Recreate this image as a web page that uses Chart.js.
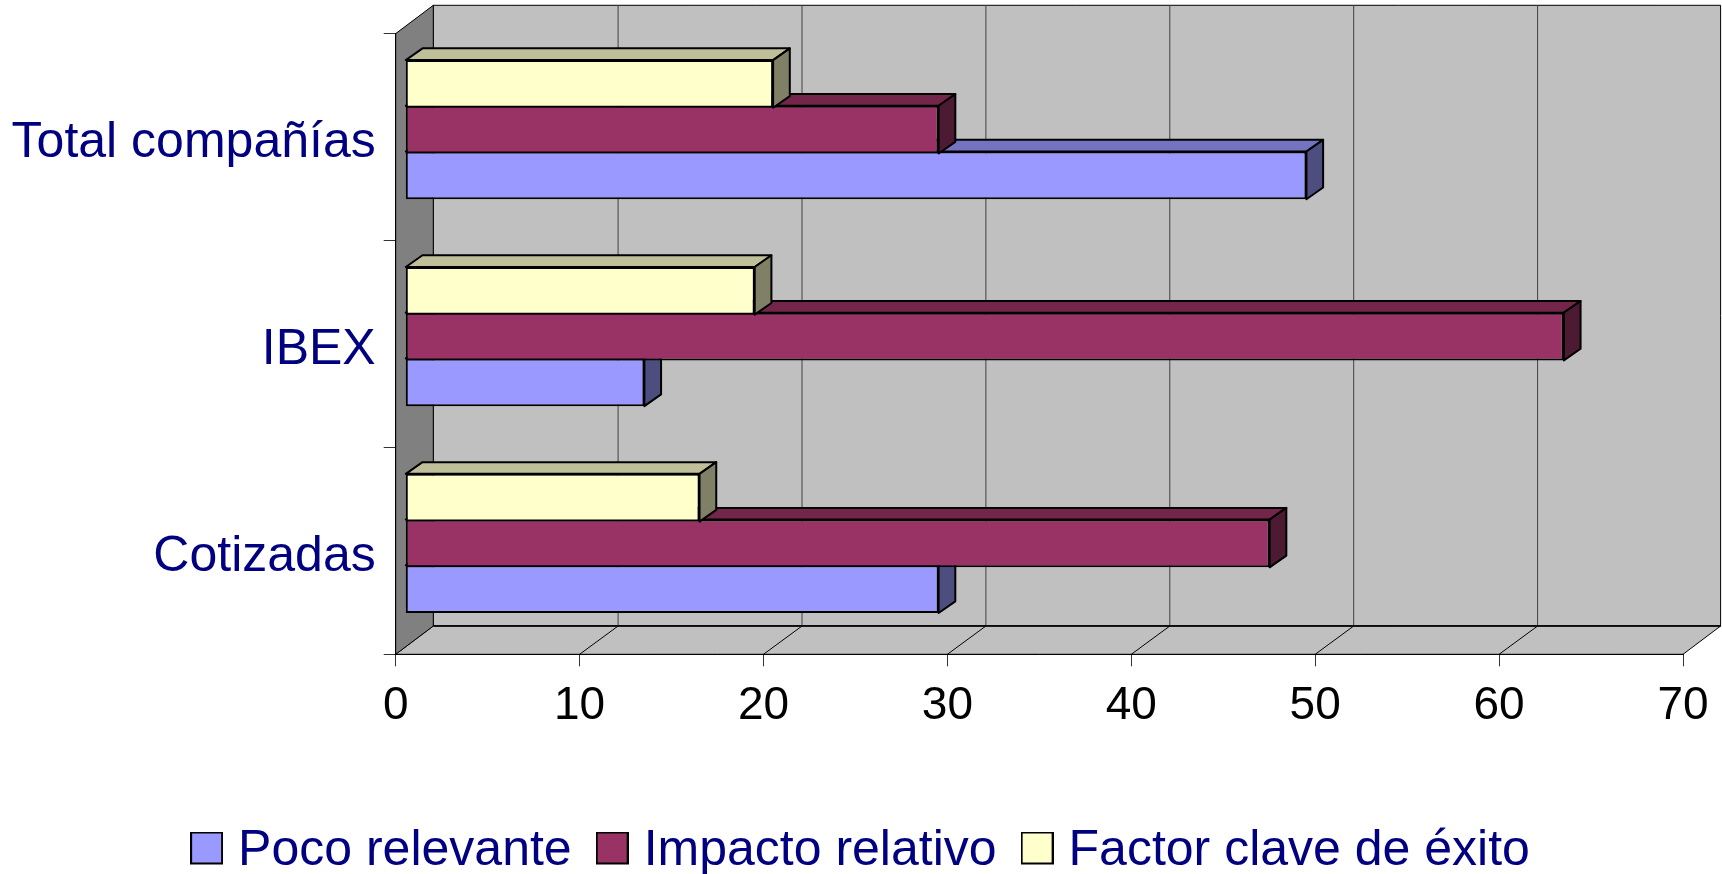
<!DOCTYPE html>
<html>
<head>
<meta charset="utf-8">
<style>
  html, body { margin: 0; padding: 0; background: #fff; overflow: hidden; }
  /* placed so the centred legend lands where it should */
  #myChart { position: absolute; left: 8px; top: 0; }
</style>
<script src="https://cdn.jsdelivr.net/npm/chart.js@4/dist/chart.umd.min.js"></script>
</head>
<body>
<canvas id="myChart" width="1714" height="886"></canvas>
<script>
// Data, categories listed top to bottom
const categories = ['Total compañías', 'IBEX', 'Cotizadas'];
const pocoRelevante = [49, 13, 29];
const impactoRelativo = [29, 63, 47];
const factorClave = [20, 19, 16];
const seriesNames = ['Poco relevante', 'Impacto relativo', 'Factor clave de éxito'];
const xTicks = [0, 10, 20, 30, 40, 50, 60, 70];

const seriesColors = ['#9999FF', '#993366', '#FFFFCC'];
const topColors = ['#7373BF', '#732649', '#BFBF99'];
const sideColors = ['#4D4D80', '#4D1A33', '#808066'];

// 3D look of the old Excel chart
const wallDepth = { x: 37.6, y: 28.3 };
const gridDepthX = 38.5;
const barDepth = { x: 16.7, y: 11.7 };
const barShift = { x: 9.6, y: -7.4 };

function face(ctx, points, fill) {
  ctx.beginPath();
  points.forEach((p, i) => (i ? ctx.lineTo(p[0], p[1]) : ctx.moveTo(p[0], p[1])));
  ctx.closePath();
  ctx.fillStyle = fill;
  ctx.fill();
  ctx.stroke();
}

// Floor, side wall and back wall, behind everything else
const wallsPlugin = {
  id: 'walls',
  beforeDraw(chart) {
    const { ctx, chartArea: a, scales } = chart;
    const dx = wallDepth.x;
    const dy = wallDepth.y;
    ctx.save();
    ctx.lineWidth = 1;
    ctx.strokeStyle = '#000';
    face(ctx, [[a.left + dx, a.top - dy], [a.right + dx, a.top - dy], [a.right + dx, a.bottom - dy], [a.left + dx, a.bottom - dy]], '#C0C0C0');
    face(ctx, [[a.left, a.bottom], [a.left + dx, a.bottom - dy], [a.right + dx, a.bottom - dy], [a.right, a.bottom]], '#C0C0C0');
    face(ctx, [[a.left, a.top], [a.left + dx, a.top - dy], [a.left + dx, a.bottom - dy], [a.left, a.bottom]], '#808080');

    // grid lines run along the back wall and across the floor
    xTicks.slice(1, -1).forEach(v => {
      const x = scales.x.getPixelForValue(v);
      ctx.strokeStyle = '#404040';
      ctx.beginPath();
      ctx.moveTo(x + gridDepthX, a.top - dy);
      ctx.lineTo(x + gridDepthX, a.bottom - dy);
      ctx.stroke();
      ctx.strokeStyle = '#000';
      ctx.beginPath();
      ctx.moveTo(x + gridDepthX, a.bottom - dy);
      ctx.lineTo(x, a.bottom);
      ctx.stroke();
    });

    // heavier line where the back wall meets the floor
    ctx.lineWidth = 1.5;
    ctx.beginPath();
    ctx.moveTo(a.left + dx, a.bottom - dy);
    ctx.lineTo(a.right + dx, a.bottom - dy);
    ctx.stroke();
    ctx.restore();
  }
};

// Top and side of each bar, the library then draws the front on the same offset
const barsPlugin = {
  id: 'bars3d',
  beforeDatasetDraw(chart, args) {
    const { ctx } = chart;
    const i = args.index;
    ctx.save();
    ctx.translate(barShift.x, barShift.y);
    ctx.lineWidth = 2;
    ctx.lineJoin = 'round';
    ctx.strokeStyle = '#000';
    args.meta.data.forEach(bar => {
      const top = bar.y - bar.height / 2;
      const bottom = bar.y + bar.height / 2;
      const dx = barDepth.x;
      const dy = barDepth.y;
      face(ctx, [[bar.base, top], [bar.base + dx, top - dy], [bar.x + dx, top - dy], [bar.x, top]], topColors[i]);
      face(ctx, [[bar.x, top], [bar.x + dx, top - dy], [bar.x + dx, bottom - dy], [bar.x, bottom]], sideColors[i]);
    });
  },
  afterDatasetDraw(chart) {
    chart.ctx.restore();
  }
};

// swatch sits in the upper part of its image, the text in the reference is lower than the box
function legendSwatch(color) {
  const c = document.createElement('canvas');
  c.width = 33;
  c.height = 39;
  const g = c.getContext('2d');
  g.fillStyle = '#000';
  g.fillRect(0, 0, 33, 33);
  g.fillStyle = color;
  g.fillRect(2, 2, 29, 29);
  return c;
}

const ctx = document.getElementById('myChart').getContext('2d');

const seriesValues = [pocoRelevante, impactoRelativo, factorClave];
const myChart = new Chart(ctx, {
  type: 'bar',
  data: {
    labels: categories,
    datasets: seriesNames.map((name, i) => ({
      label: name,
      data: seriesValues[i],
      backgroundColor: seriesColors[i],
      borderColor: '#000',
      borderWidth: 2,
      borderSkipped: false,
      // the yellow bar sits at the top of its group and is drawn last
      order: 2 - i,
      clip: false,
      barPercentage: 1.044,
      categoryPercentage: 0.663
    }))
  },
  options: {
    indexAxis: 'y',
    responsive: false,
    animation: false,
    devicePixelRatio: 1,
    layout: { padding: { top: 33.6 } },
    scales: {
      x: {
        min: 0,
        max: 70,
        afterFit: s => { s.height = 137.7; s.paddingRight = 39; },
        afterBuildTicks: s => { s.ticks = xTicks.map(v => ({ value: v })); },
        grid: { drawOnChartArea: false, tickLength: 12, tickColor: '#333' },
        border: { color: '#000' },
        ticks: {
          maxRotation: 0,
          color: '#000',
          padding: 12,
          font: { family: 'Liberation Sans', size: 46 }
        }
      },
      y: {
        afterFit: s => { s.width = 387.7; s.paddingTop = 0; s.paddingBottom = 0; },
        grid: { drawOnChartArea: false, tickLength: 12, tickColor: '#333' },
        border: { color: '#000' },
        ticks: {
          color: '#000080',
          padding: 8,
          labelOffset: 6,
          font: { family: 'Liberation Sans', size: 50 }
        }
      }
    },
    plugins: {
      tooltip: { enabled: false },
      legend: {
        position: 'bottom',
        labels: {
          usePointStyle: true,
          pointStyleWidth: 13,
          boxHeight: 33,
          padding: 34,
          color: '#000080',
          font: { family: 'Liberation Sans', size: 50 },
          sort: (a, b) => a.datasetIndex - b.datasetIndex,
          generateLabels: chart =>
            Chart.defaults.plugins.legend.labels.generateLabels(chart).map(item => ({
              ...item,
              pointStyle: legendSwatch(seriesColors[item.datasetIndex])
            }))
        }
      }
    }
  },
  plugins: [wallsPlugin, barsPlugin]
});
</script>
</body>
</html>
